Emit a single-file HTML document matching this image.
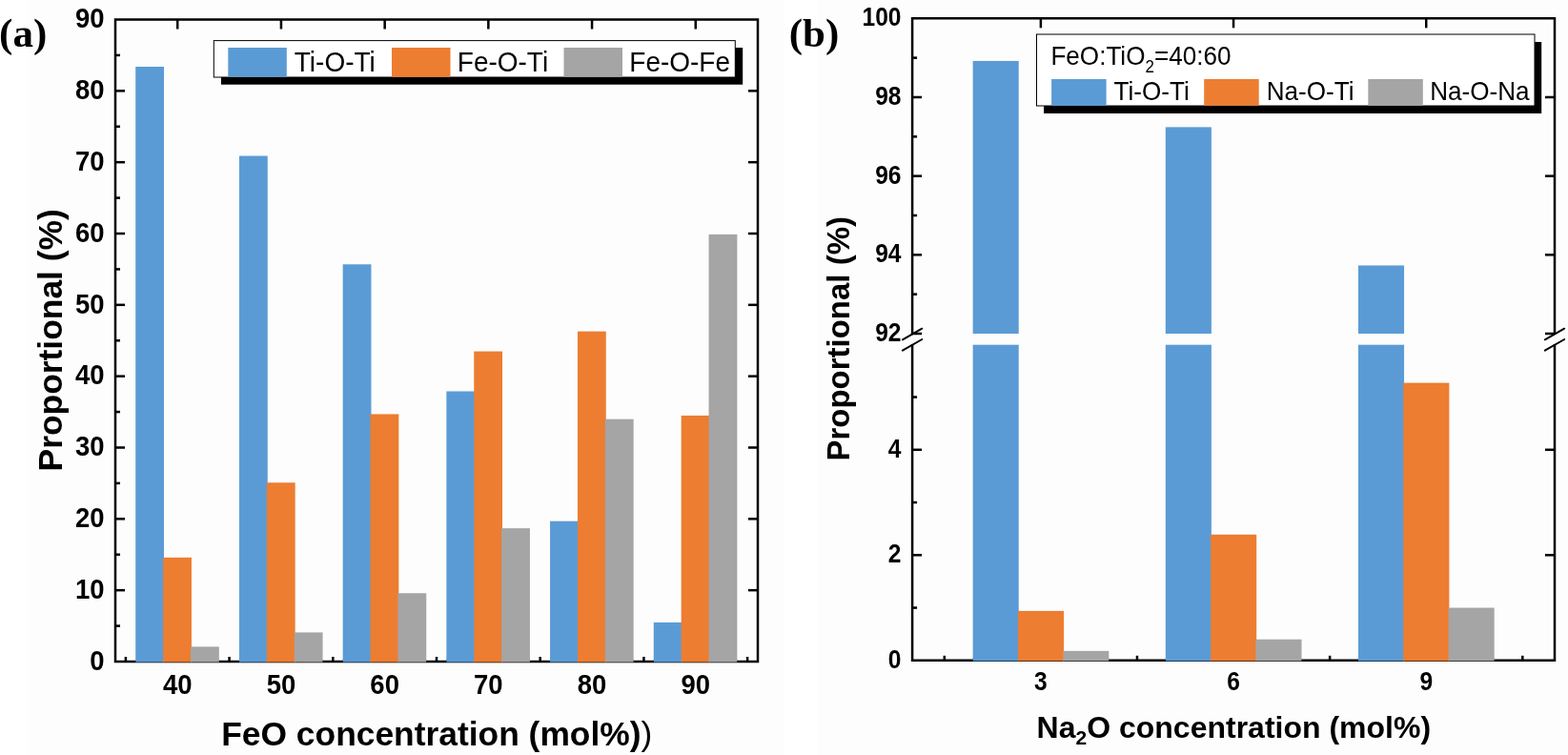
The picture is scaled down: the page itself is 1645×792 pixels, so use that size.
<!DOCTYPE html>
<html lang="en">
<head>
<meta charset="utf-8">
<title>Proportional bond statistics</title>
<style>
html,body{margin:0;padding:0;background:#fff;}
body{width:1645px;height:792px;overflow:hidden;}
svg{display:block;}
</style>
</head>
<body>
<svg width="1645" height="792" viewBox="0 0 1645 792">
<rect x="0" y="0" width="1645" height="792" fill="#ffffff"/>
<rect x="30" y="0" width="792" height="792" fill="#fdfdfd"/>
<rect x="858" y="0" width="787" height="792" fill="#fdfdfd"/>
<g id="chart-a">
<rect x="142.23" y="69.99" width="29.80" height="624.01" fill="#5B9BD5" />
<rect x="171.13" y="584.84" width="29.80" height="109.16" fill="#ED7D31" />
<rect x="200.03" y="678.38" width="29.80" height="15.62" fill="#A5A5A5" />
<rect x="250.94" y="163.53" width="29.80" height="530.47" fill="#5B9BD5" />
<rect x="279.84" y="506.27" width="29.80" height="187.73" fill="#ED7D31" />
<rect x="308.74" y="663.42" width="29.80" height="30.58" fill="#A5A5A5" />
<rect x="359.65" y="277.28" width="29.80" height="416.72" fill="#5B9BD5" />
<rect x="388.55" y="434.43" width="29.80" height="259.57" fill="#ED7D31" />
<rect x="417.45" y="622.26" width="29.80" height="71.74" fill="#A5A5A5" />
<rect x="468.35" y="410.48" width="29.80" height="283.52" fill="#5B9BD5" />
<rect x="497.25" y="368.58" width="29.80" height="325.42" fill="#ED7D31" />
<rect x="526.15" y="554.16" width="29.80" height="139.84" fill="#A5A5A5" />
<rect x="577.06" y="546.68" width="29.80" height="147.32" fill="#5B9BD5" />
<rect x="605.96" y="347.62" width="29.80" height="346.38" fill="#ED7D31" />
<rect x="634.86" y="439.67" width="29.80" height="254.33" fill="#A5A5A5" />
<rect x="685.77" y="652.94" width="29.80" height="41.06" fill="#5B9BD5" />
<rect x="714.67" y="435.93" width="29.80" height="258.07" fill="#ED7D31" />
<rect x="743.57" y="245.85" width="29.80" height="448.15" fill="#A5A5A5" />
<text transform="translate(109.60,702.80) scale(1.0,1.1)" font-size="27.5" font-weight="bold" text-anchor="end" font-family='"Liberation Sans", Arial, sans-serif' >0</text>
<line x1="121.00" y1="656.58" x2="126.00" y2="656.58" stroke="#000" stroke-width="2.5" />
<line x1="121.00" y1="619.17" x2="131.00" y2="619.17" stroke="#000" stroke-width="2.5" />
<line x1="785.00" y1="619.17" x2="795.00" y2="619.17" stroke="#000" stroke-width="2.5" />
<text transform="translate(109.60,627.97) scale(1.0,1.1)" font-size="27.5" font-weight="bold" text-anchor="end" font-family='"Liberation Sans", Arial, sans-serif' >10</text>
<line x1="121.00" y1="581.75" x2="126.00" y2="581.75" stroke="#000" stroke-width="2.5" />
<line x1="121.00" y1="544.33" x2="131.00" y2="544.33" stroke="#000" stroke-width="2.5" />
<line x1="785.00" y1="544.33" x2="795.00" y2="544.33" stroke="#000" stroke-width="2.5" />
<text transform="translate(109.60,553.13) scale(1.0,1.1)" font-size="27.5" font-weight="bold" text-anchor="end" font-family='"Liberation Sans", Arial, sans-serif' >20</text>
<line x1="121.00" y1="506.92" x2="126.00" y2="506.92" stroke="#000" stroke-width="2.5" />
<line x1="121.00" y1="469.50" x2="131.00" y2="469.50" stroke="#000" stroke-width="2.5" />
<line x1="785.00" y1="469.50" x2="795.00" y2="469.50" stroke="#000" stroke-width="2.5" />
<text transform="translate(109.60,478.30) scale(1.0,1.1)" font-size="27.5" font-weight="bold" text-anchor="end" font-family='"Liberation Sans", Arial, sans-serif' >30</text>
<line x1="121.00" y1="432.08" x2="126.00" y2="432.08" stroke="#000" stroke-width="2.5" />
<line x1="121.00" y1="394.67" x2="131.00" y2="394.67" stroke="#000" stroke-width="2.5" />
<line x1="785.00" y1="394.67" x2="795.00" y2="394.67" stroke="#000" stroke-width="2.5" />
<text transform="translate(109.60,403.47) scale(1.0,1.1)" font-size="27.5" font-weight="bold" text-anchor="end" font-family='"Liberation Sans", Arial, sans-serif' >40</text>
<line x1="121.00" y1="357.25" x2="126.00" y2="357.25" stroke="#000" stroke-width="2.5" />
<line x1="121.00" y1="319.83" x2="131.00" y2="319.83" stroke="#000" stroke-width="2.5" />
<line x1="785.00" y1="319.83" x2="795.00" y2="319.83" stroke="#000" stroke-width="2.5" />
<text transform="translate(109.60,328.63) scale(1.0,1.1)" font-size="27.5" font-weight="bold" text-anchor="end" font-family='"Liberation Sans", Arial, sans-serif' >50</text>
<line x1="121.00" y1="282.42" x2="126.00" y2="282.42" stroke="#000" stroke-width="2.5" />
<line x1="121.00" y1="245.00" x2="131.00" y2="245.00" stroke="#000" stroke-width="2.5" />
<line x1="785.00" y1="245.00" x2="795.00" y2="245.00" stroke="#000" stroke-width="2.5" />
<text transform="translate(109.60,253.80) scale(1.0,1.1)" font-size="27.5" font-weight="bold" text-anchor="end" font-family='"Liberation Sans", Arial, sans-serif' >60</text>
<line x1="121.00" y1="207.58" x2="126.00" y2="207.58" stroke="#000" stroke-width="2.5" />
<line x1="121.00" y1="170.17" x2="131.00" y2="170.17" stroke="#000" stroke-width="2.5" />
<line x1="785.00" y1="170.17" x2="795.00" y2="170.17" stroke="#000" stroke-width="2.5" />
<text transform="translate(109.60,178.97) scale(1.0,1.1)" font-size="27.5" font-weight="bold" text-anchor="end" font-family='"Liberation Sans", Arial, sans-serif' >70</text>
<line x1="121.00" y1="132.75" x2="126.00" y2="132.75" stroke="#000" stroke-width="2.5" />
<line x1="121.00" y1="95.33" x2="131.00" y2="95.33" stroke="#000" stroke-width="2.5" />
<line x1="785.00" y1="95.33" x2="795.00" y2="95.33" stroke="#000" stroke-width="2.5" />
<text transform="translate(109.60,104.13) scale(1.0,1.1)" font-size="27.5" font-weight="bold" text-anchor="end" font-family='"Liberation Sans", Arial, sans-serif' >80</text>
<line x1="121.00" y1="57.92" x2="126.00" y2="57.92" stroke="#000" stroke-width="2.5" />
<text transform="translate(109.60,29.30) scale(1.0,1.1)" font-size="27.5" font-weight="bold" text-anchor="end" font-family='"Liberation Sans", Arial, sans-serif' >90</text>
<line x1="186.23" y1="20.50" x2="186.23" y2="30.50" stroke="#000" stroke-width="2.5" />
<text transform="translate(186.23,727.70) scale(1.0,1.1)" font-size="27.5" font-weight="bold" text-anchor="middle" font-family='"Liberation Sans", Arial, sans-serif' >40</text>
<line x1="294.94" y1="20.50" x2="294.94" y2="30.50" stroke="#000" stroke-width="2.5" />
<text transform="translate(294.94,727.70) scale(1.0,1.1)" font-size="27.5" font-weight="bold" text-anchor="middle" font-family='"Liberation Sans", Arial, sans-serif' >50</text>
<line x1="403.65" y1="20.50" x2="403.65" y2="30.50" stroke="#000" stroke-width="2.5" />
<text transform="translate(403.65,727.70) scale(1.0,1.1)" font-size="27.5" font-weight="bold" text-anchor="middle" font-family='"Liberation Sans", Arial, sans-serif' >60</text>
<line x1="512.35" y1="20.50" x2="512.35" y2="30.50" stroke="#000" stroke-width="2.5" />
<text transform="translate(512.35,727.70) scale(1.0,1.1)" font-size="27.5" font-weight="bold" text-anchor="middle" font-family='"Liberation Sans", Arial, sans-serif' >70</text>
<line x1="621.06" y1="20.50" x2="621.06" y2="30.50" stroke="#000" stroke-width="2.5" />
<text transform="translate(621.06,727.70) scale(1.0,1.1)" font-size="27.5" font-weight="bold" text-anchor="middle" font-family='"Liberation Sans", Arial, sans-serif' >80</text>
<line x1="729.77" y1="20.50" x2="729.77" y2="30.50" stroke="#000" stroke-width="2.5" />
<text transform="translate(729.77,727.70) scale(1.0,1.1)" font-size="27.5" font-weight="bold" text-anchor="middle" font-family='"Liberation Sans", Arial, sans-serif' >90</text>
<line x1="131.87" y1="689.00" x2="131.87" y2="694.00" stroke="#000" stroke-width="2.5" />
<line x1="240.58" y1="689.00" x2="240.58" y2="694.00" stroke="#000" stroke-width="2.5" />
<line x1="349.29" y1="689.00" x2="349.29" y2="694.00" stroke="#000" stroke-width="2.5" />
<line x1="458.00" y1="689.00" x2="458.00" y2="694.00" stroke="#000" stroke-width="2.5" />
<line x1="566.71" y1="689.00" x2="566.71" y2="694.00" stroke="#000" stroke-width="2.5" />
<line x1="675.42" y1="689.00" x2="675.42" y2="694.00" stroke="#000" stroke-width="2.5" />
<line x1="784.13" y1="689.00" x2="784.13" y2="694.00" stroke="#000" stroke-width="2.5" />
<rect x="121.0" y="20.5" width="674.0" height="673.5" fill="none" stroke="#000" stroke-width="2.5"/>
<rect x="142.23" y="691.50" width="29.80" height="3.05" fill="#5B9BD5" />
<rect x="171.13" y="691.50" width="29.80" height="3.05" fill="#ED7D31" />
<rect x="200.03" y="691.50" width="29.80" height="3.05" fill="#A5A5A5" />
<rect x="250.94" y="691.50" width="29.80" height="3.05" fill="#5B9BD5" />
<rect x="279.84" y="691.50" width="29.80" height="3.05" fill="#ED7D31" />
<rect x="308.74" y="691.50" width="29.80" height="3.05" fill="#A5A5A5" />
<rect x="359.65" y="691.50" width="29.80" height="3.05" fill="#5B9BD5" />
<rect x="388.55" y="691.50" width="29.80" height="3.05" fill="#ED7D31" />
<rect x="417.45" y="691.50" width="29.80" height="3.05" fill="#A5A5A5" />
<rect x="468.35" y="691.50" width="29.80" height="3.05" fill="#5B9BD5" />
<rect x="497.25" y="691.50" width="29.80" height="3.05" fill="#ED7D31" />
<rect x="526.15" y="691.50" width="29.80" height="3.05" fill="#A5A5A5" />
<rect x="577.06" y="691.50" width="29.80" height="3.05" fill="#5B9BD5" />
<rect x="605.96" y="691.50" width="29.80" height="3.05" fill="#ED7D31" />
<rect x="634.86" y="691.50" width="29.80" height="3.05" fill="#A5A5A5" />
<rect x="685.77" y="691.50" width="29.80" height="3.05" fill="#5B9BD5" />
<rect x="714.67" y="691.50" width="29.80" height="3.05" fill="#ED7D31" />
<rect x="743.57" y="691.50" width="29.80" height="3.05" fill="#A5A5A5" />
<rect x="232.00" y="50.00" width="547.20" height="38.70" fill="#000" />
<rect x="224.30" y="42.60" width="547.00" height="38.40" fill="#fff" stroke="#000" stroke-width="1"/>
<rect x="239.30" y="50.00" width="61.50" height="30.70" fill="#5B9BD5" />
<text transform="translate(308.80,74.70) scale(1.0,1.045)" font-size="28" font-weight="normal" text-anchor="start" font-family='"Liberation Sans", Arial, sans-serif' >Ti-O-Ti</text>
<rect x="411.00" y="50.00" width="61.50" height="30.70" fill="#ED7D31" />
<text transform="translate(479.80,74.70) scale(1.0,1.045)" font-size="28" font-weight="normal" text-anchor="start" font-family='"Liberation Sans", Arial, sans-serif' >Fe-O-Ti</text>
<rect x="591.50" y="50.00" width="61.50" height="30.70" fill="#A5A5A5" />
<text transform="translate(660.30,74.70) scale(1.0,1.045)" font-size="28" font-weight="normal" text-anchor="start" font-family='"Liberation Sans", Arial, sans-serif' >Fe-O-Fe</text>
<text x="-0.90" y="49.10" font-size="43" font-weight="bold" text-anchor="start" font-family='"Liberation Serif", "Times New Roman", serif' >(a)</text>
<text transform="translate(65,356.8) rotate(-90) scale(1,1.005)" font-size="35.4" font-weight="bold" text-anchor="middle" font-family='"Liberation Sans", Arial, sans-serif'>Proportional (%)</text>
<text transform="translate(232.2,781.5) scale(1,1.005)" font-size="35.4" font-weight="bold" font-family='"Liberation Sans", Arial, sans-serif'>FeO concentration (mol%)<tspan font-weight="normal">)</tspan></text>
</g>
<g id="chart-b">
<rect x="1020.63" y="63.93" width="48.10" height="286.07" fill="#5B9BD5" />
<rect x="1020.63" y="361.70" width="48.10" height="331.10" fill="#5B9BD5" />
<rect x="1067.93" y="640.87" width="48.10" height="51.93" fill="#ED7D31" />
<rect x="1115.23" y="682.85" width="48.10" height="9.95" fill="#A5A5A5" />
<rect x="1222.80" y="133.38" width="48.10" height="216.62" fill="#5B9BD5" />
<rect x="1222.80" y="361.70" width="48.10" height="331.10" fill="#5B9BD5" />
<rect x="1270.10" y="560.75" width="48.10" height="132.05" fill="#ED7D31" />
<rect x="1317.40" y="670.70" width="48.10" height="22.10" fill="#A5A5A5" />
<rect x="1424.97" y="278.47" width="48.10" height="71.53" fill="#5B9BD5" />
<rect x="1424.97" y="361.70" width="48.10" height="331.10" fill="#5B9BD5" />
<rect x="1472.27" y="401.63" width="48.10" height="291.17" fill="#ED7D31" />
<rect x="1519.57" y="637.55" width="48.10" height="55.25" fill="#A5A5A5" />
<line x1="957.10" y1="350.00" x2="967.10" y2="350.00" stroke="#000" stroke-width="2.5" />
<line x1="1621.00" y1="350.00" x2="1631.00" y2="350.00" stroke="#000" stroke-width="2.5" />
<text transform="translate(945.50,357.90) scale(1.0,1.11)" font-size="24.6" font-weight="bold" text-anchor="end" font-family='"Liberation Sans", Arial, sans-serif' >92</text>
<line x1="957.10" y1="308.66" x2="962.10" y2="308.66" stroke="#000" stroke-width="2.5" />
<line x1="957.10" y1="267.32" x2="967.10" y2="267.32" stroke="#000" stroke-width="2.5" />
<line x1="1621.00" y1="267.32" x2="1631.00" y2="267.32" stroke="#000" stroke-width="2.5" />
<text transform="translate(945.50,275.22) scale(1.0,1.11)" font-size="24.6" font-weight="bold" text-anchor="end" font-family='"Liberation Sans", Arial, sans-serif' >94</text>
<line x1="957.10" y1="225.99" x2="962.10" y2="225.99" stroke="#000" stroke-width="2.5" />
<line x1="957.10" y1="184.65" x2="967.10" y2="184.65" stroke="#000" stroke-width="2.5" />
<line x1="1621.00" y1="184.65" x2="1631.00" y2="184.65" stroke="#000" stroke-width="2.5" />
<text transform="translate(945.50,192.55) scale(1.0,1.11)" font-size="24.6" font-weight="bold" text-anchor="end" font-family='"Liberation Sans", Arial, sans-serif' >96</text>
<line x1="957.10" y1="143.31" x2="962.10" y2="143.31" stroke="#000" stroke-width="2.5" />
<line x1="957.10" y1="101.98" x2="967.10" y2="101.98" stroke="#000" stroke-width="2.5" />
<line x1="1621.00" y1="101.98" x2="1631.00" y2="101.98" stroke="#000" stroke-width="2.5" />
<text transform="translate(945.50,109.88) scale(1.0,1.11)" font-size="24.6" font-weight="bold" text-anchor="end" font-family='"Liberation Sans", Arial, sans-serif' >98</text>
<line x1="957.10" y1="60.64" x2="962.10" y2="60.64" stroke="#000" stroke-width="2.5" />
<text transform="translate(945.50,27.20) scale(1.0,1.11)" font-size="24.6" font-weight="bold" text-anchor="end" font-family='"Liberation Sans", Arial, sans-serif' >100</text>
<text transform="translate(945.50,700.50) scale(1.0,1.11)" font-size="24.6" font-weight="bold" text-anchor="end" font-family='"Liberation Sans", Arial, sans-serif' >0</text>
<line x1="957.10" y1="637.55" x2="962.10" y2="637.55" stroke="#000" stroke-width="2.5" />
<line x1="957.10" y1="582.30" x2="967.10" y2="582.30" stroke="#000" stroke-width="2.5" />
<line x1="1621.00" y1="582.30" x2="1631.00" y2="582.30" stroke="#000" stroke-width="2.5" />
<text transform="translate(945.50,590.00) scale(1.0,1.11)" font-size="24.6" font-weight="bold" text-anchor="end" font-family='"Liberation Sans", Arial, sans-serif' >2</text>
<line x1="957.10" y1="527.05" x2="962.10" y2="527.05" stroke="#000" stroke-width="2.5" />
<line x1="957.10" y1="471.80" x2="967.10" y2="471.80" stroke="#000" stroke-width="2.5" />
<line x1="1621.00" y1="471.80" x2="1631.00" y2="471.80" stroke="#000" stroke-width="2.5" />
<text transform="translate(945.50,479.50) scale(1.0,1.11)" font-size="24.6" font-weight="bold" text-anchor="end" font-family='"Liberation Sans", Arial, sans-serif' >4</text>
<line x1="957.10" y1="416.55" x2="962.10" y2="416.55" stroke="#000" stroke-width="2.5" />
<line x1="1091.88" y1="19.30" x2="1091.88" y2="29.30" stroke="#000" stroke-width="2.5" />
<text transform="translate(1091.88,723.90) scale(1.0,1.11)" font-size="24.6" font-weight="bold" text-anchor="middle" font-family='"Liberation Sans", Arial, sans-serif' >3</text>
<line x1="1294.05" y1="19.30" x2="1294.05" y2="29.30" stroke="#000" stroke-width="2.5" />
<text transform="translate(1294.05,723.90) scale(1.0,1.11)" font-size="24.6" font-weight="bold" text-anchor="middle" font-family='"Liberation Sans", Arial, sans-serif' >6</text>
<line x1="1496.22" y1="19.30" x2="1496.22" y2="29.30" stroke="#000" stroke-width="2.5" />
<text transform="translate(1496.22,723.90) scale(1.0,1.11)" font-size="24.6" font-weight="bold" text-anchor="middle" font-family='"Liberation Sans", Arial, sans-serif' >9</text>
<line x1="990.80" y1="687.80" x2="990.80" y2="692.80" stroke="#000" stroke-width="2.5" />
<line x1="1192.97" y1="687.80" x2="1192.97" y2="692.80" stroke="#000" stroke-width="2.5" />
<line x1="1395.13" y1="687.80" x2="1395.13" y2="692.80" stroke="#000" stroke-width="2.5" />
<line x1="1597.31" y1="687.80" x2="1597.31" y2="692.80" stroke="#000" stroke-width="2.5" />
<line x1="957.10" y1="18.05" x2="957.10" y2="350.30" stroke="#000" stroke-width="2.5" />
<line x1="957.10" y1="361.00" x2="957.10" y2="694.05" stroke="#000" stroke-width="2.5" />
<line x1="946.90" y1="356.30" x2="967.30" y2="344.70" stroke="#000" stroke-width="2" stroke-linecap="round"/>
<line x1="946.90" y1="367.60" x2="967.30" y2="356.00" stroke="#000" stroke-width="2" stroke-linecap="round"/>
<line x1="1631.00" y1="18.05" x2="1631.00" y2="350.30" stroke="#000" stroke-width="2.5" />
<line x1="1631.00" y1="361.00" x2="1631.00" y2="694.05" stroke="#000" stroke-width="2.5" />
<line x1="1620.80" y1="356.30" x2="1641.20" y2="344.70" stroke="#000" stroke-width="2" stroke-linecap="round"/>
<line x1="1620.80" y1="367.60" x2="1641.20" y2="356.00" stroke="#000" stroke-width="2" stroke-linecap="round"/>
<line x1="957.10" y1="19.30" x2="1631.00" y2="19.30" stroke="#000" stroke-width="2.5" />
<line x1="957.10" y1="692.80" x2="1631.00" y2="692.80" stroke="#000" stroke-width="2.5" />
<rect x="1020.63" y="690.30" width="48.10" height="3.05" fill="#5B9BD5" />
<rect x="1067.93" y="690.30" width="48.10" height="3.05" fill="#ED7D31" />
<rect x="1115.23" y="690.30" width="48.10" height="3.05" fill="#A5A5A5" />
<rect x="1222.80" y="690.30" width="48.10" height="3.05" fill="#5B9BD5" />
<rect x="1270.10" y="690.30" width="48.10" height="3.05" fill="#ED7D31" />
<rect x="1317.40" y="690.30" width="48.10" height="3.05" fill="#A5A5A5" />
<rect x="1424.97" y="690.30" width="48.10" height="3.05" fill="#5B9BD5" />
<rect x="1472.27" y="690.30" width="48.10" height="3.05" fill="#ED7D31" />
<rect x="1519.57" y="690.30" width="48.10" height="3.05" fill="#A5A5A5" />
<rect x="1095.10" y="44.00" width="522.10" height="75.00" fill="#000" />
<rect x="1087.50" y="36.00" width="522.50" height="75.00" fill="#fff" stroke="#000" stroke-width="1"/>
<text transform="translate(1102.4,67.7) scale(1,1.045)" font-size="26.1" font-family='"Liberation Sans", Arial, sans-serif'>FeO:TiO<tspan font-size="17" dy="7.5">2</tspan><tspan dy="-7.5">=40:60</tspan></text>
<rect x="1103.10" y="83.00" width="57.50" height="27.80" fill="#5B9BD5" />
<text transform="translate(1168.50,105.40) scale(1.0,1.045)" font-size="26.1" font-weight="normal" text-anchor="start" font-family='"Liberation Sans", Arial, sans-serif' >Ti-O-Ti</text>
<rect x="1263.20" y="83.00" width="57.50" height="27.80" fill="#ED7D31" />
<text transform="translate(1328.70,105.40) scale(1.0,1.045)" font-size="26.1" font-weight="normal" text-anchor="start" font-family='"Liberation Sans", Arial, sans-serif' >Na-O-Ti</text>
<rect x="1435.30" y="83.00" width="57.50" height="27.80" fill="#A5A5A5" />
<text transform="translate(1500.20,105.40) scale(1.0,1.045)" font-size="26.1" font-weight="normal" text-anchor="start" font-family='"Liberation Sans", Arial, sans-serif' >Na-O-Na</text>
<text x="827.80" y="48.90" font-size="43" font-weight="bold" text-anchor="start" font-family='"Liberation Serif", "Times New Roman", serif' >(b)</text>
<text transform="translate(890.9,355.3) rotate(-90) scale(1,1.005)" font-size="33" font-weight="bold" text-anchor="middle" font-family='"Liberation Sans", Arial, sans-serif'>Proportional (%)</text>
<text transform="translate(1087.6,773.8) scale(1,1.005)" font-size="32" font-weight="bold" font-family='"Liberation Sans", Arial, sans-serif'>Na<tspan font-size="21" dy="7">2</tspan><tspan dy="-7">O concentration (mol%)</tspan></text>
</g>
</svg>
</body>
</html>
